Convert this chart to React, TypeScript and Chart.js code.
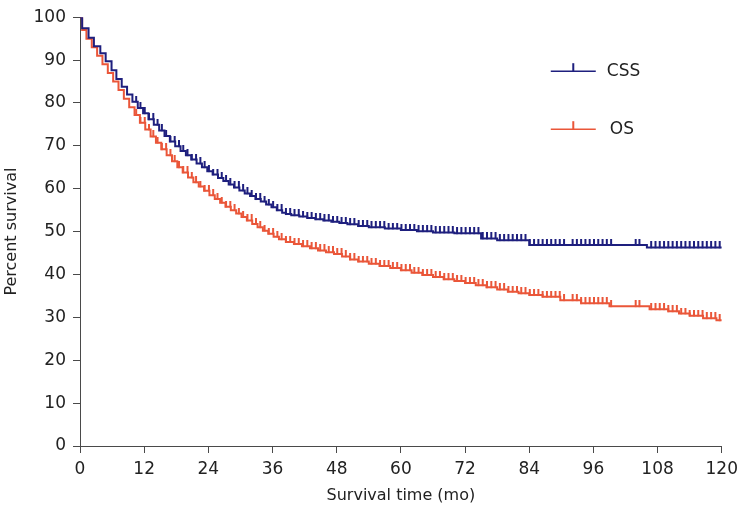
import React, { useEffect, useRef } from "react";
import { Chart, registerables } from "chart.js";

Chart.register(...registerables);

// Kaplan-Meier step points (months, percent survival)
const cssTimes = [0, 0.4, 1.6, 2.6, 3.8, 4.8, 5.9, 6.8, 7.8, 8.8, 9.8, 10.8, 11.8, 12.8, 13.8, 14.8, 15.8, 16.8, 17.8, 18.8, 19.8, 20.8, 21.8, 22.8, 23.8, 24.8, 25.8, 26.8, 27.8, 28.8, 29.8, 30.8, 31.8, 32.8, 33.8, 34.8, 35.8, 36.8, 37.8, 38.5, 39.5, 41, 42.5, 44, 45.5, 47, 48.5, 50, 52, 54, 57, 60, 63, 66, 70, 75, 78, 84, 106, 120];
const cssSurvival = [100, 97.4, 95.2, 93.2, 91.6, 89.7, 87.6, 85.6, 83.8, 82.0, 80.3, 78.8, 77.6, 76.2, 74.9, 73.6, 72.3, 71.0, 69.9, 68.8, 67.8, 66.8, 65.9, 65.0, 64.1, 63.3, 62.5, 61.8, 61.0, 60.3, 59.6, 58.9, 58.3, 57.6, 57.0, 56.3, 55.7, 55.0, 54.4, 54.1, 53.8, 53.5, 53.2, 52.9, 52.6, 52.3, 52.0, 51.7, 51.3, 51.0, 50.7, 50.4, 50.1, 49.8, 49.6, 48.4, 48.0, 46.9, 46.3, 46.3];

const osTimes = [0, 0.4, 1.2, 2.2, 3.2, 4.2, 5.2, 6.2, 7.2, 8.2, 9.2, 10.2, 11.2, 12.2, 13.2, 14.2, 15.2, 16.2, 17.2, 18.2, 19.2, 20.2, 21.2, 22.2, 23.2, 24.2, 25.2, 26.2, 27.2, 28.2, 29.2, 30.2, 31.2, 32.2, 33.2, 34.2, 35.2, 36.2, 37.2, 38.5, 40, 41.5, 43, 44.5, 46, 47.5, 49, 50.5, 52, 54, 56, 58, 60, 62, 64, 66, 68, 70, 72, 74, 76, 78, 80, 82, 84, 86.5, 89.8, 93.7, 99, 106.5, 110, 112, 114, 116.5, 119, 120];
const osSurvival = [100, 97.0, 95.0, 93.0, 91.0, 89.0, 87.0, 85.0, 83.0, 81.0, 79.0, 77.2, 75.4, 73.8, 72.2, 70.7, 69.2, 67.8, 66.4, 65.0, 63.8, 62.6, 61.5, 60.5, 59.5, 58.5, 57.6, 56.7, 55.8, 55.0, 54.2, 53.4, 52.6, 51.8, 51.0, 50.2, 49.5, 48.8, 48.2, 47.6, 47.1, 46.6, 46.1, 45.6, 45.2, 44.8, 44.2, 43.5, 43.0, 42.5, 42.0, 41.5, 41.0, 40.4, 39.9, 39.4, 38.9, 38.5, 38.0, 37.5, 37.0, 36.5, 36.0, 35.6, 35.2, 34.8, 34.0, 33.3, 32.6, 31.9, 31.4, 30.9, 30.4, 29.8, 29.3, 29.3];

// Censoring times (months), shared by both curves
const censorTimes = [10.5, 11.3, 12.1, 12.9, 13.7, 14.5, 15.3, 16.1, 16.9, 17.7, 18.5, 19.3, 20.1, 20.9, 21.7, 22.5, 23.3, 24.1, 24.9, 25.7, 26.5, 27.3, 28.1, 28.9, 29.7, 30.5, 31.3, 32.1, 32.9, 33.7, 34.5, 35.3, 36.1, 36.9, 37.7, 38.5, 39.3, 40.1, 40.9, 41.7, 42.5, 43.3, 44.1, 44.9, 45.7, 46.5, 47.3, 48.1, 48.9, 49.7, 50.5, 51.3, 52.1, 52.9, 53.7, 54.5, 55.3, 56.1, 56.9, 57.7, 58.5, 59.3, 60.1, 60.9, 61.7, 62.5, 63.3, 64.1, 64.9, 65.7, 66.5, 67.3, 68.1, 68.9, 69.7, 70.5, 71.3, 72.1, 72.9, 73.7, 74.5, 75.3, 76.1, 76.9, 77.7, 78.5, 79.3, 80.1, 80.9, 81.7, 82.5, 83.3, 84.1, 84.9, 85.7, 86.5, 87.3, 88.1, 88.9, 89.7, 90.5, 92.1, 92.9, 93.7, 94.5, 95.3, 96.1, 96.9, 97.7, 98.5, 99.3, 103.9, 104.6, 106.8, 107.6, 108.4, 109.2, 110.0, 110.8, 111.6, 112.4, 113.2, 114.0, 114.8, 115.6, 116.4, 117.2, 118.0, 118.8, 119.6];

const seriesNames = ["CSS", "OS"];
const xTickValues = [0, 12, 24, 36, 48, 60, 72, 84, 96, 108, 120];
const yTickValues = [0, 10, 20, 30, 40, 50, 60, 70, 80, 90, 100];

const CSS_COLOR = "#1e1f7e";
const OS_COLOR = "#ea5639";
const AXIS_COLOR = "#4a4a4a";
const FONT = "'DejaVu Sans', Verdana, sans-serif";

function survivalAt(times: number[], vals: number[], t: number) {
  let s = vals[0];
  for (let i = 0; i < times.length; i++) if (times[i] <= t) s = vals[i];
  return s;
}

function makeTick(color: string) {
  const c = document.createElement("canvas");
  c.width = 4;
  c.height = 12;
  const ctx = c.getContext("2d")!;
  ctx.fillStyle = color;
  ctx.fillRect(1, 0, 2, 6.5);
  return c;
}

export default function App() {
  const ref = useRef<HTMLCanvasElement>(null);
  useEffect(() => {
    const cssTick = makeTick(CSS_COLOR);
    const osTick = makeTick(OS_COLOR);

    const legendPlugin = {
      id: "kmLegend",
      afterDraw(chart: any) {
        const ctx = chart.ctx;
        const { right, top } = chart.chartArea;
        const entries = [
          { name: seriesNames[0], color: CSS_COLOR, y: top + 54 },
          { name: seriesNames[1], color: OS_COLOR, y: top + 112 },
        ];
        ctx.save();
        entries.forEach((e, i) => {
          const x0 = right - 171;
          const x1 = right - 126;
          ctx.strokeStyle = e.color;
          ctx.lineWidth = 1.5;
          ctx.beginPath();
          ctx.moveTo(x0, e.y);
          ctx.lineTo(x1, e.y);
          ctx.stroke();
          ctx.lineWidth = 2;
          ctx.beginPath();
          ctx.moveTo((x0 + x1) / 2, e.y);
          ctx.lineTo((x0 + x1) / 2, e.y - 8);
          ctx.stroke();
          ctx.fillStyle = "#222";
          ctx.font = `17px ${FONT}`;
          ctx.textBaseline = "middle";
          ctx.textAlign = "left";
          ctx.fillText(e.name, right - 115 + (i === 1 ? 3 : 0), e.y);
        });
        ctx.restore();
      },
    };

    const chart = new Chart(ref.current!, {
      type: "line",
      data: {
        datasets: [
          {
            label: seriesNames[0],
            data: cssTimes.map((t, i) => ({ x: t, y: cssSurvival[i] })),
            stepped: "before",
            borderColor: CSS_COLOR,
            borderWidth: 2,
            pointRadius: 0,
            fill: false,
          },
          {
            label: seriesNames[1],
            data: osTimes.map((t, i) => ({ x: t, y: osSurvival[i] })),
            stepped: "before",
            borderColor: OS_COLOR,
            borderWidth: 2,
            pointRadius: 0,
            fill: false,
          },
          {
            label: seriesNames[0] + " censored",
            type: "scatter",
            data: censorTimes.map((t) => ({ x: t, y: survivalAt(cssTimes, cssSurvival, t) })),
            pointStyle: cssTick as any,
            pointRadius: 3,
            showLine: false,
          } as any,
          {
            label: seriesNames[1] + " censored",
            type: "scatter",
            data: censorTimes.map((t) => ({ x: t, y: survivalAt(osTimes, osSurvival, t) })),
            pointStyle: osTick as any,
            pointRadius: 3,
            showLine: false,
          } as any,
        ],
      },
      options: {
        animation: false,
        responsive: false,
        devicePixelRatio: 1,
        layout: { padding: { top: 17, right: 20, left: 0, bottom: 0 } },
        plugins: { legend: { display: false }, tooltip: { enabled: false } },
        scales: {
          x: {
            type: "linear",
            min: 0,
            max: 120,
            afterFit: (s: any) => {
              s.height = 65;
            },
            afterBuildTicks: (s: any) => {
              s.ticks = xTickValues.map((v) => ({ value: v }));
            },
            grid: { drawOnChartArea: false, drawTicks: true, tickLength: 7, tickColor: AXIS_COLOR },
            border: { color: AXIS_COLOR, width: 1 },
            ticks: { color: "#222", font: { family: FONT, size: 17 }, padding: 6, maxRotation: 0 },
            title: {
              display: true,
              text: "Survival time (mo)",
              color: "#222",
              font: { family: FONT, size: 16 },
              padding: { top: 0, bottom: 6 },
            },
          },
          y: {
            type: "linear",
            min: 0,
            max: 100,
            afterFit: (s: any) => {
              s.width = 80;
            },
            afterBuildTicks: (s: any) => {
              s.ticks = yTickValues.map((v) => ({ value: v }));
            },
            grid: { drawOnChartArea: false, drawTicks: true, tickLength: 7, tickColor: AXIS_COLOR },
            border: { color: AXIS_COLOR, width: 1 },
            ticks: { color: "#222", font: { family: FONT, size: 17 }, padding: 7 },
            title: {
              display: true,
              text: "Percent survival",
              color: "#222",
              font: { family: FONT, size: 16 },
              padding: { top: 2, bottom: 0 },
            },
          },
        },
      },
      plugins: [legendPlugin],
    });
    return () => chart.destroy();
  }, []);

  return (
    <div style={{ position: "fixed", left: 0, top: 0, width: 744, height: 511, background: "#fff" }}>
      <canvas ref={ref} width={744} height={511} />
    </div>
  );
}
